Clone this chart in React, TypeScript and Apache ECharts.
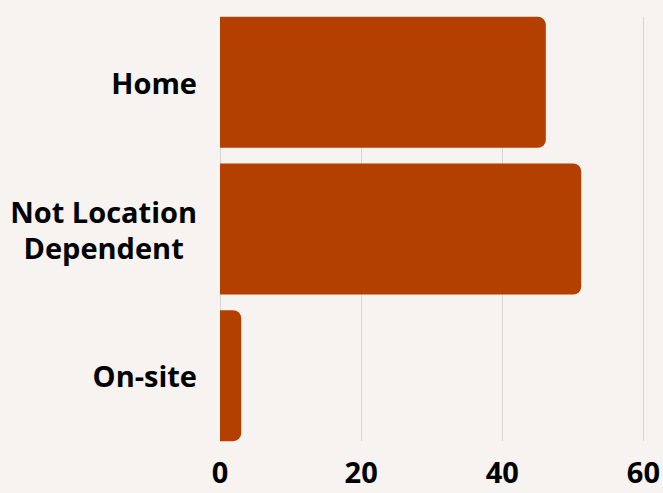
import React, { useEffect, useRef } from "react";
import * as echarts from "echarts";

const categories = ["Home", "Not Location Dependent", "On-site"];
const categoryLabels = ["Home", "Not Location\nDependent", "On-site"];
const values = [46, 51, 3];
const xTicks = [0, 20, 40, 60];

const FONT = "'Open Sans', 'Noto Sans', sans-serif";

export default function App() {
  const ref = useRef<HTMLDivElement>(null);
  useEffect(() => {
    if (!ref.current) return;
    const chart = echarts.init(ref.current, undefined, { renderer: "svg" });
    const labelMap: Record<string, string> = {};
    categories.forEach((c, i) => (labelMap[c] = categoryLabels[i]));
    chart.setOption({
      animation: false,
      backgroundColor: "#f6f3f0",
      grid: [
        { left: 220, right: 18, top: 9, bottom: 44, containLabel: false },
        { left: 220, right: 18, top: 17, bottom: 52, containLabel: false },
      ],
      xAxis: [
        {
          gridIndex: 0,
          type: "value",
          min: xTicks[0],
          max: xTicks[xTicks.length - 1],
          interval: 20,
          show: false,
        },
        {
          gridIndex: 1,
          type: "value",
          min: xTicks[0],
          max: xTicks[xTicks.length - 1],
          interval: 20,
          axisLine: { show: false },
          axisTick: { show: false },
          splitLine: { show: true, lineStyle: { color: "#d6d3d0", width: 1 } },
          axisLabel: {
            margin: 16,
            color: "#000",
            fontFamily: FONT,
            fontWeight: "bold",
            fontSize: 29,
          },
        },
      ],
      yAxis: [
        {
          gridIndex: 0,
          type: "category",
          data: categories,
          inverse: true,
          axisLine: { show: false },
          axisTick: { show: false },
          splitLine: { show: false },
          axisLabel: {
            margin: 23,
            align: "right",
            formatter: (v: string) =>
              labelMap[v]
                .split("\n")
                .map((s) => `{c|${s}}`)
                .join("\n"),
            rich: {
              c: {
                align: "center",
                color: "#000",
                fontFamily: FONT,
                fontWeight: "bold",
                fontSize: 29,
                lineHeight: 36,
              },
            },
          },
        },
        { gridIndex: 1, type: "value", show: false, min: 0, max: 1 },
      ],
      series: [
        {
          type: "bar",
          xAxisIndex: 0,
          yAxisIndex: 0,
          data: values,
          barWidth: 131,
          itemStyle: { color: "#b34000", borderRadius: [0, 8, 8, 0] },
        },
      ],
    });
    return () => chart.dispose();
  }, []);
  return <div ref={ref} style={{ width: 663, height: 493, position: "fixed", left: 0, top: 0 }} />;
}
